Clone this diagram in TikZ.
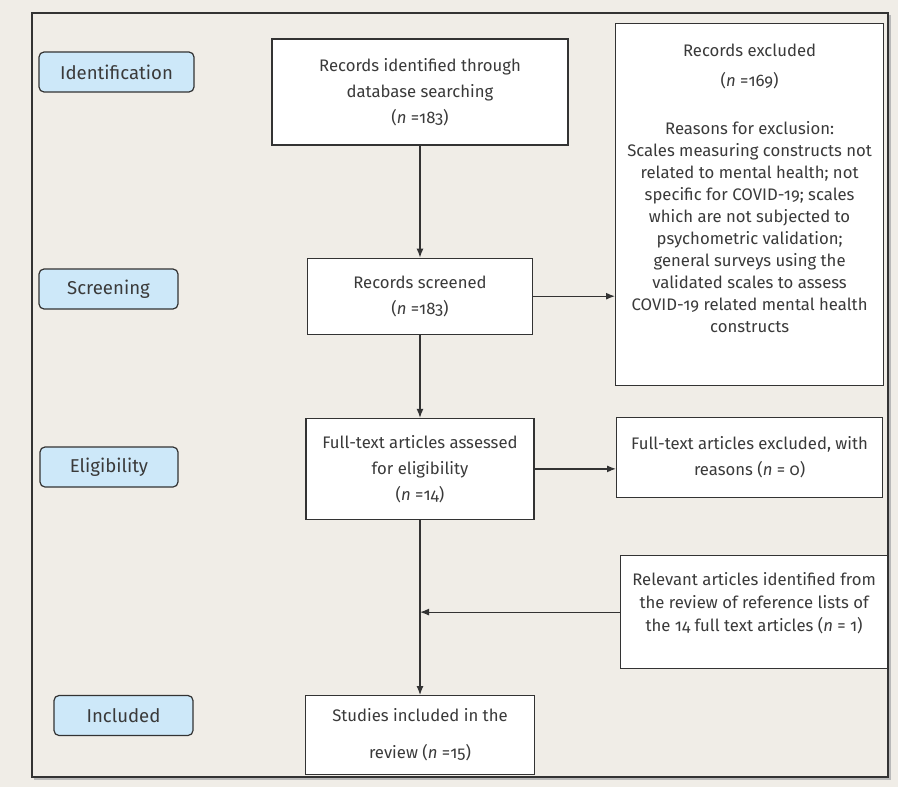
\documentclass[tikz,border=0pt]{standalone}
\usepackage{fontspec}
\setmainfont{Fira Sans}[Numbers=OldStyle]
\usetikzlibrary{positioning, arrows.meta}

\definecolor{pagebg}{RGB}{240,237,231}
\definecolor{stageblue}{RGB}{205,232,249}
\definecolor{inkgray}{RGB}{51,51,51}
\definecolor{textgray}{RGB}{58,58,58}

\begin{document}
\begin{tikzpicture}[x=1pt, y=-1pt,
    box/.style={draw=inkgray, line width=1.2pt, fill=white, align=center,
      inner sep=0pt, text=textgray, font=\fontsize{16.7}{26}\selectfont},
    stage/.style={draw=inkgray, line width=1.2pt, fill=stageblue,
      rounded corners=5pt, minimum height=40pt, text=textgray,
      font=\fontsize{18.6}{22}\selectfont},
    arr/.style={draw=inkgray, line width=1.2pt,
      -{Latex[length=9pt, width=7pt]}}]

    % page and outer frame
    \fill [pagebg] (0,0) rectangle (898,787);
    \useasboundingbox (0,0) rectangle (898,787);
    \draw [gray!55, line width=1.5pt] (34,779) -- (890,779) -- (890,15);
    \draw [inkgray, line width=1.2pt] (32,13) rectangle (888,777);

    % stages
    \node [stage, minimum width=155pt] (Ident) at (116.5,72) {Identification};
    \node [stage, minimum width=139pt] (Screen) at (108.5,289) {Screening};
    \node [stage, minimum width=138pt] (Elig) at (109,467) {Eligibility};
    \node [stage, minimum width=139pt] (Incl) at (123.5,715.5) {Included};

    % main column
    \node [box, minimum width=296pt, minimum height=106pt] (Found) at (420,92)
    {Records identified through\\database searching\\(\textit{n} =183)};
    \node [box, minimum width=225pt, minimum height=76pt, below=112pt of Found]
    (Screened) {Records screened\\(\textit{n} =183)};
    \node [box, minimum width=228pt, minimum height=101pt, below=83pt of Screened]
    (Assessed) {Full-text articles assessed\\for eligibility\\(\textit{n} =14)};
    \node [box, minimum width=229pt, minimum height=79pt, below=175pt of Assessed]
    (Studies) {Studies included in the\\[11pt]review (\textit{n} =15)};

    % excluded records
    \node [box, anchor=north west, minimum width=268pt, minimum height=362pt]
    (Excluded) at (615,23) {\parbox[c][322pt][t]{264pt}{\centering
      \fontsize{16.7}{22}\selectfont
      Records excluded\\[8pt](\textit{n} =169)\\[26pt]%
      Reasons for exclusion:\\Scales measuring constructs not\\related to
      mental health; not\\specific for COVID-19; scales\\which are not
      subjected to\\psychometric validation;\\general surveys using the\\validated
      scales to assess\\COVID-19 related mental health\\constructs}};

    % full text excluded
    \node [box, anchor=north west, minimum width=266pt, minimum height=80pt]
    (TextExcl) at (616,417) {Full-text articles excluded, with\\reasons
    (\textit{n} = 0)};

    % reference lists
    \node [box, anchor=north west, minimum width=267pt, minimum height=113pt]
    (Relevant) at (620,555) {\parbox[c][79pt][t]{264pt}{\centering
      \fontsize{16.7}{23}\selectfont
      Relevant articles identified from\\the review of reference lists of\\the
      14 full text articles (\textit{n} = 1)}};

    % arrows
    \draw [arr] (Found.south) -- (Screened.north);
    \draw [arr] (Screened.south) -- (Assessed.north);
    \draw [arr] (Assessed.south) -- (Studies.north);
    \draw [arr] (Screened.east) -- (Screened.east -| Excluded.west);
    \draw [arr] (Assessed.east) -- (Assessed.east -| TextExcl.west);
    \draw [arr] (Relevant.west) -- (Relevant.west -| Assessed.south);
\end{tikzpicture}
\end{document}
